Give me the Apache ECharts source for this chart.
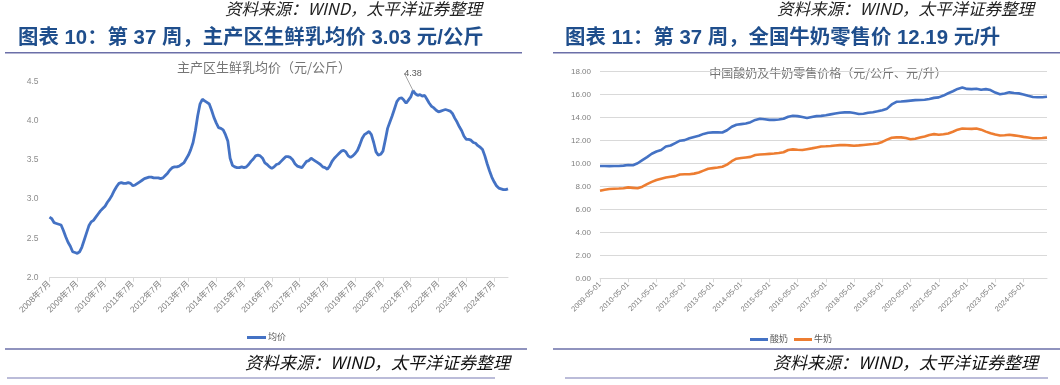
<!DOCTYPE html>
<html>
<head>
<meta charset="utf-8">
<script src="https://cdn.jsdelivr.net/npm/echarts@6/dist/echarts.min.js"></script>
<style>
html,body{margin:0;padding:0;background:#fff;}
#chart{width:1060px;height:385px;}
</style>
</head>
<body>
<div id="chart"></div>
<script>
// ---- Left chart: 主产区生鲜乳均价 (monthly, from 2008年7月) ----
const rawMilkPrice = [
  2.77,2.75,2.70,2.69,2.68,2.67,2.60,2.52,2.45,2.40,2.33,2.32,
  2.31,2.33,2.39,2.48,2.57,2.66,2.71,2.73,2.77,2.81,2.85,2.88,
  2.91,2.96,3.00,3.05,3.11,3.16,3.20,3.21,3.20,3.20,3.21,3.20,
  3.17,3.18,3.20,3.22,3.24,3.26,3.27,3.28,3.28,3.27,3.27,3.27,
  3.26,3.27,3.30,3.33,3.37,3.40,3.41,3.41,3.42,3.44,3.46,3.51,
  3.56,3.63,3.72,3.87,4.06,4.21,4.27,4.25,4.23,4.21,4.13,4.04,
  3.97,3.91,3.90,3.88,3.82,3.74,3.52,3.43,3.41,3.40,3.40,3.41,
  3.40,3.41,3.44,3.48,3.51,3.55,3.56,3.55,3.52,3.46,3.44,3.41,
  3.39,3.41,3.44,3.45,3.48,3.51,3.54,3.54,3.53,3.50,3.45,3.42,
  3.41,3.40,3.44,3.48,3.49,3.52,3.50,3.48,3.46,3.44,3.41,3.40,
  3.38,3.42,3.48,3.52,3.55,3.58,3.61,3.62,3.60,3.55,3.53,3.55,
  3.58,3.62,3.69,3.77,3.82,3.84,3.86,3.82,3.72,3.60,3.56,3.57,
  3.61,3.75,3.90,3.98,4.06,4.15,4.24,4.28,4.29,4.26,4.22,4.26,
  4.30,4.38,4.34,4.32,4.33,4.31,4.32,4.27,4.22,4.18,4.16,4.13,
  4.11,4.12,4.13,4.14,4.13,4.12,4.09,4.03,3.98,3.92,3.87,3.80,
  3.76,3.76,3.75,3.72,3.71,3.68,3.66,3.63,3.55,3.45,3.36,3.28,
  3.22,3.17,3.14,3.13,3.12,3.12,3.13
];
const rawMilkPeakLabel = '4.38';
const leftYTicks = [2.0, 2.5, 3.0, 3.5, 4.0, 4.5];

// ---- Right chart: 酸奶 / 牛奶 零售价格 (bi-monthly, from 2009-05-01) ----
const yogurtPrice = [
  9.78,9.78,9.77,9.78,9.79,9.82,9.87,9.85,10.02,10.30,10.56,10.85,
  11.05,11.18,11.48,11.57,11.78,11.99,12.04,12.20,12.32,12.42,12.58,12.68,
  12.71,12.72,12.70,12.90,13.20,13.38,13.43,13.48,13.60,13.80,13.90,13.85,
  13.80,13.80,13.84,13.90,14.08,14.16,14.13,14.05,13.96,14.06,14.13,14.15,
  14.20,14.28,14.36,14.43,14.46,14.47,14.40,14.32,14.34,14.42,14.47,14.55,
  14.65,14.78,15.15,15.38,15.40,15.44,15.48,15.52,15.54,15.55,15.62,15.72,
  15.76,15.92,16.12,16.30,16.50,16.62,16.50,16.48,16.52,16.42,16.48,16.40,
  16.18,16.04,16.10,16.20,16.15,16.11,16.02,15.90,15.80,15.78,15.78,15.82
];
const milkPrice = [
  7.63,7.72,7.78,7.80,7.82,7.85,7.92,7.88,7.84,7.98,8.20,8.40,
  8.56,8.68,8.78,8.84,8.90,9.05,9.06,9.06,9.12,9.22,9.38,9.54,
  9.60,9.65,9.72,9.90,10.20,10.42,10.48,10.53,10.58,10.74,10.78,10.81,
  10.84,10.87,10.91,10.98,11.18,11.23,11.20,11.18,11.25,11.32,11.40,11.48,
  11.50,11.53,11.57,11.60,11.61,11.58,11.55,11.58,11.62,11.66,11.70,11.75,
  11.88,12.08,12.25,12.28,12.28,12.22,12.12,12.16,12.26,12.36,12.48,12.56,
  12.50,12.55,12.62,12.77,12.95,13.05,13.03,13.02,13.05,12.95,12.78,12.64,
  12.53,12.44,12.46,12.50,12.45,12.40,12.32,12.26,12.20,12.20,12.22,12.26
];
const rightYTicks = [0,2,4,6,8,10,12,14,16,18];

// categories
const leftCategories = rawMilkPrice.map((_, i) => {
  const m = 6 + i;
  return (2008 + Math.floor(m / 12)) + '年' + (m % 12 + 1) + '月';
});
const rightCategories = yogurtPrice.map((_, k) => {
  const m = 4 + 2 * k;
  const mm = m % 12 + 1;
  return (2009 + Math.floor(m / 12)) + '-' + (mm < 10 ? '0' + mm : mm) + '-01';
});

const peakIndex = rawMilkPrice.indexOf(4.38);
const leftData = rawMilkPrice.map((v, i) => i === peakIndex ? {
  value: v,
  label: {show: true, formatter: rawMilkPeakLabel},
  labelLine: {show: true}
} : v);

const BLUE = '#4472C4', ORANGE = '#ED7D31';
const titleColor = '#1f4e8c';
const sourceText = '资料来源：WIND，太平洋证券整理';
const fontCJK = '"Liberation Sans","Noto Sans CJK SC",sans-serif';
const axisGray = '#d9d9d9';
const labelGray = '#7f7f7f';

const chart = echarts.init(document.getElementById('chart'), null, {renderer: 'canvas'});

chart.setOption({
  backgroundColor: '#ffffff',
  animation: false,
  textStyle: {fontFamily: fontCJK},
  grid: [
    {left: 49.5, right: 552, top: 81.2, bottom: 107.3},
    {left: 600, right: 13, top: 71.7, bottom: 106.7}
  ],
  legend: [
    {
      data: ['均价'], left: 247, top: 333, padding: 0, icon: 'rect', itemWidth: 19, itemHeight: 3,
      itemGap: 10, textStyle: {fontSize: 9, color: '#595959', padding: [0, 0, 0, -3]}
    },
    {
      data: ['酸奶', '牛奶'], left: 750, top: 335, padding: 0, icon: 'rect', itemWidth: 18, itemHeight: 3,
      itemGap: 6, textStyle: {fontSize: 9, color: '#595959', padding: [0, 0, 0, -3]}
    }
  ],
  xAxis: [
    {
      type: 'category', gridIndex: 0, data: leftCategories, boundaryGap: false,
      axisLine: {lineStyle: {color: axisGray, width: 1}},
      axisTick: {show: true, interval: 11, length: 4, lineStyle: {color: axisGray}},
      axisLabel: {interval: 11, rotate: 45, fontSize: 8.5, color: labelGray, margin: 5}
    },
    {
      type: 'category', gridIndex: 1, data: rightCategories, boundaryGap: false,
      axisLine: {lineStyle: {color: axisGray, width: 1}},
      axisTick: {show: true, interval: 5, length: 4, lineStyle: {color: axisGray}},
      axisLabel: {interval: 5, rotate: 45, fontSize: 7.5, color: labelGray, margin: 5}
    }
  ],
  yAxis: [
    {
      type: 'value', gridIndex: 0, min: leftYTicks[0], max: leftYTicks[leftYTicks.length - 1], interval: 0.5,
      axisLine: {show: false}, axisTick: {show: false}, splitLine: {show: false},
      axisLabel: {fontSize: 8.5, color: '#8c8c8c', margin: 11, formatter: v => v.toFixed(1)}
    },
    {
      type: 'value', gridIndex: 1, min: rightYTicks[0], max: rightYTicks[rightYTicks.length - 1], interval: 2,
      axisLine: {show: false}, axisTick: {show: false},
      splitLine: {show: true, lineStyle: {color: axisGray, width: 1.2}},
      axisLabel: {fontSize: 8, color: labelGray, margin: 9, formatter: v => v.toFixed(2)}
    }
  ],
  series: [
    {
      name: '均价', type: 'line', xAxisIndex: 0, yAxisIndex: 0, data: leftData,
      showSymbol: true, showAllSymbol: true, symbol: 'circle', symbolSize: 0,
      color: BLUE, itemStyle: {color: BLUE},
      lineStyle: {width: 2.8, color: BLUE},
      label: {show: false, position: 'top', distance: 2, fontSize: 9, color: '#595959'},
      labelLayout: {dy: -11},
      labelLine: {show: true, lineStyle: {color: '#a6a6a6', width: 1}}
    },
    {
      name: '酸奶', type: 'line', xAxisIndex: 1, yAxisIndex: 1, data: yogurtPrice,
      showSymbol: false, symbol: 'none', color: BLUE, lineStyle: {width: 2.6, color: BLUE}
    },
    {
      name: '牛奶', type: 'line', xAxisIndex: 1, yAxisIndex: 1, data: milkPrice,
      showSymbol: false, symbol: 'none', color: ORANGE, lineStyle: {width: 2.6, color: ORANGE}
    }
  ],
  graphic: [
    // top source texts
    {type: 'text', x: 482, y: 9, style: {text: sourceText, align: 'right', verticalAlign: 'middle',
      font: 'italic 16.5px "Noto Sans CJK SC"', fill: '#222'}},
    {type: 'text', x: 1034, y: 9, style: {text: sourceText, align: 'right', verticalAlign: 'middle',
      font: 'italic 16.5px "Noto Sans CJK SC"', fill: '#222'}},
    // headings
    {type: 'text', x: 18, y: 38.5, style: {text: '图表 10：第 37 周，主产区生鲜乳均价 3.03 元/公斤', verticalAlign: 'middle',
      font: 'bold 20.4px "Liberation Sans","Noto Sans CJK SC"', fill: titleColor}},
    {type: 'text', x: 565, y: 38.5, style: {text: '图表 11：第 37 周，全国牛奶零售价 12.19 元/升', verticalAlign: 'middle',
      font: 'bold 20.4px "Liberation Sans","Noto Sans CJK SC"', fill: titleColor}},
    // heading underlines
    {type: 'line', shape: {x1: 5, y1: 52.7, x2: 522, y2: 52.7}, style: {stroke: '#6b6fa8', lineWidth: 1.5}},
    {type: 'line', shape: {x1: 553, y1: 52.7, x2: 1060, y2: 52.7}, style: {stroke: '#6b6fa8', lineWidth: 1.5}},
    // chart titles
    {type: 'text', x: 264, y: 67, style: {text: '主产区生鲜乳均价（元/公斤）', align: 'center', verticalAlign: 'middle',
      font: '13px "Noto Sans CJK SC"', fill: '#757575'}},
    {type: 'text', x: 828, y: 73, style: {text: '中国酸奶及牛奶零售价格（元/公斤、元/升）', align: 'center', verticalAlign: 'middle',
      font: '12px "Noto Sans CJK SC"', fill: '#757575'}},
    // bottom separators
    {type: 'line', shape: {x1: 5, y1: 349, x2: 527, y2: 349}, style: {stroke: '#6b6fa8', lineWidth: 1.5}},
    {type: 'line', shape: {x1: 553, y1: 349, x2: 1060, y2: 349}, style: {stroke: '#6b6fa8', lineWidth: 1.5}},
    {type: 'line', shape: {x1: 7, y1: 378, x2: 495, y2: 378}, style: {stroke: '#a4a6cc', lineWidth: 1.5}},
    {type: 'line', shape: {x1: 565, y1: 378, x2: 1048, y2: 378}, style: {stroke: '#a4a6cc', lineWidth: 1.5}},
    // bottom source texts
    {type: 'text', x: 510, y: 363, style: {text: sourceText, align: 'right', verticalAlign: 'middle',
      font: 'italic 17px "Noto Sans CJK SC"', fill: '#111'}},
    {type: 'text', x: 1038, y: 363, style: {text: sourceText, align: 'right', verticalAlign: 'middle',
      font: 'italic 17px "Noto Sans CJK SC"', fill: '#111'}}
  ]
});
</script>
</body>
</html>
